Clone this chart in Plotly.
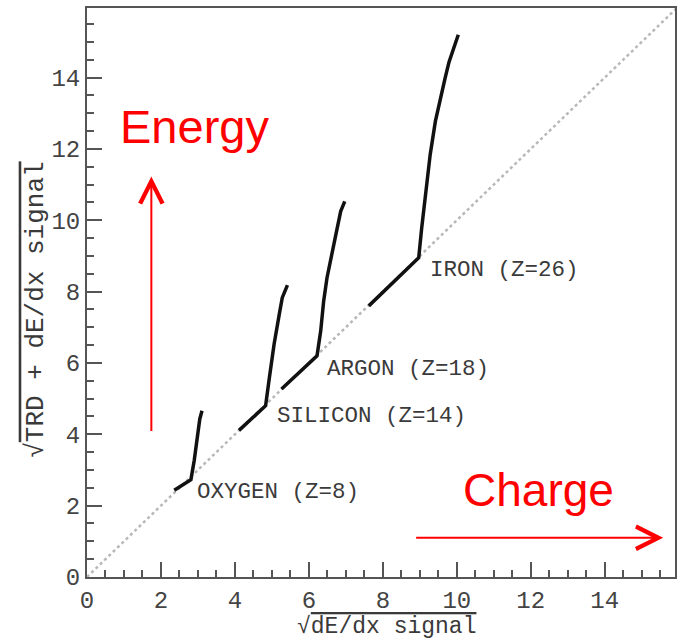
import plotly.graph_objects as go

# ---- data ----
oxygen_x = [2.36, 2.81, 2.90, 2.99, 3.05, 3.11]
oxygen_y = [2.43, 2.73, 3.27, 4.01, 4.43, 4.66]

silicon_x = [4.11, 4.83, 4.92, 5.06, 5.20, 5.28, 5.42]
silicon_y = [4.11, 4.80, 5.50, 6.53, 7.37, 7.83, 8.18]

argon_x = [5.26, 6.22, 6.32, 6.40, 6.49, 6.65, 6.76, 6.86, 6.97]
argon_y = [5.27, 6.20, 6.90, 7.74, 8.39, 9.13, 9.75, 10.25, 10.53]

iron_x = [7.62, 8.97, 9.05, 9.15, 9.28, 9.42, 9.55, 9.68, 9.79, 9.91, 10.04]
iron_y = [7.60, 8.95, 9.78, 10.62, 11.84, 12.77, 13.42, 13.97, 14.44, 14.81, 15.20]

diag_x = [0, 16]
diag_y = [0, 16]

labels = ["OXYGEN (Z=8)", "SILICON (Z=14)", "ARGON (Z=18)", "IRON (Z=26)"]
label_x = [2.93, 5.08, 6.43, 9.23]
label_y = [2.37, 4.50, 5.84, 8.60]

tick_vals = [0, 2, 4, 6, 8, 10, 12, 14]
tick_text = ["0", "2", "4", "6", "8", "10", "12", "14"]

MONO = "Courier New, Liberation Mono, monospace"
AX = "#555555"

fig = go.Figure()
fig.add_trace(go.Scatter(x=diag_x, y=diag_y, mode="lines",
                         line=dict(color="#b8b8b8", width=2.5, dash="dot"),
                         showlegend=False, hoverinfo="skip"))
for xs, ys in [(oxygen_x, oxygen_y), (silicon_x, silicon_y),
               (argon_x, argon_y), (iron_x, iron_y)]:
    fig.add_trace(go.Scatter(x=xs, y=ys, mode="lines",
                             line=dict(color="#111111", width=3.5),
                             showlegend=False))

for t, x, y in zip(labels, label_x, label_y):
    fig.add_annotation(x=x, y=y, text=t, showarrow=False, xanchor="left",
                       yanchor="middle", font=dict(family=MONO, size=22.5, color="#3a3a3a"))

# red annotations
fig.add_annotation(x=1.74, y=11.23, ax=1.74, ay=4.05, xref="x", yref="y",
                   axref="x", ayref="y", text="", showarrow=True,
                   arrowhead=5, arrowsize=2.2, arrowwidth=2, arrowcolor="red")
fig.add_annotation(x=15.58, y=1.1, ax=8.86, ay=1.1, xref="x", yref="y",
                   axref="x", ayref="y", text="", showarrow=True,
                   arrowhead=5, arrowsize=2.2, arrowwidth=2, arrowcolor="red")
fig.add_annotation(x=0.83, y=12.62, text="Energy", showarrow=False, xanchor="left",
                   yanchor="middle", font=dict(family="Liberation Sans, Arial", size=47, color="red"))
fig.add_annotation(x=10.1, y=2.43, text="Charge", showarrow=False, xanchor="left",
                   yanchor="middle", font=dict(family="Liberation Sans, Arial", size=46, color="red"))

# axis titles
fig.add_annotation(xref="paper", yref="paper", x=0.51, y=-0.0875,
                   text="√<span style='text-decoration:overline'>dE/dx signal</span>",
                   showarrow=False, xanchor="center", yanchor="middle",
                   font=dict(family=MONO, size=23, color="#3a3a3a"))
fig.add_annotation(xref="paper", yref="paper", x=-0.088, y=0.47, textangle=-90,
                   text="√<span style='text-decoration:overline'>TRD + dE/dx signal</span>",
                   showarrow=False, xanchor="center", yanchor="middle",
                   font=dict(family=MONO, size=26, color="#3a3a3a"))

axis_common = dict(
    showline=True, linecolor=AX, linewidth=2, mirror=True,
    ticks="inside", ticklen=15, tickwidth=1.5, tickcolor=AX,
    showgrid=False, zeroline=False,
    tickvals=tick_vals, ticktext=tick_text,
    tickfont=dict(family=MONO, size=24, color="#444444"),
    minor=dict(ticks="inside", ticklen=7, tickwidth=1.5, tickcolor=AX, dtick=0.5, showgrid=False),
)
fig.update_xaxes(range=[0, 15.9], **axis_common)
fig.update_yaxes(range=[0, 15.95], **axis_common)

fig.update_layout(
    width=683, height=639,
    margin=dict(l=87, r=6, t=6, b=62),
    plot_bgcolor="white", paper_bgcolor="white",
)
fig.write_html("out.html")
